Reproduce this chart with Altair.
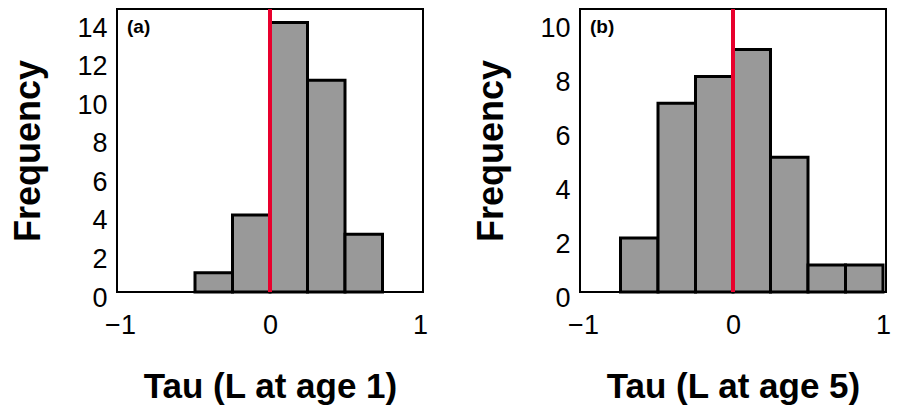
import altair as alt
import pandas as pd

# ---- data ----
bin_width = 0.25
bin_start_a = [-0.5, -0.25, 0.0, 0.25, 0.5]
count_a = [1, 4, 14, 11, 3]
bin_start_b = [-0.75, -0.5, -0.25, 0.0, 0.25, 0.5, 0.75]
count_b = [2, 7, 8, 9, 5, 1, 1]
x_ticks = [-1, 0, 1]
y_ticks_a = [0, 2, 4, 6, 8, 10, 12, 14]
y_ticks_b = [0, 2, 4, 6, 8, 10]
ref_line = [0]
titles_x = ["Tau (L at age 1)", "Tau (L at age 5)"]
tags = ["(a)", "(b)"]

W, H = 306, 283
FONT = "Liberation Sans"
LABEL_EXPR = "datum.value == 0 ? '0' : format(datum.value, 'd')"


def panel(starts, counts, yticks, ymax, xtitle, tag):
    df = pd.DataFrame({
        "start": starts,
        "end": [s + bin_width for s in starts],
        "count": counts,
    })
    xscale = alt.Scale(domain=[-1.02, 1.02], nice=False, zero=False)
    xaxis = alt.Axis(values=x_ticks, labelExpr=LABEL_EXPR, title=xtitle, labelFlush=False,
                     labelOverlap=False, ticks=False,
                     tickSize=0, domain=False, grid=False, labelPadding=20,
                     labelFontSize=27, labelFont=FONT, labelColor="black",
                     titleFont=FONT, titleFontSize=35, titleFontWeight="bold",
                     titleColor="black", titleBaseline="middle", titleY=94)
    yaxis = alt.Axis(values=yticks, labelExpr=LABEL_EXPR, title="Frequency", ticks=False,
                     tickSize=0, labelOverlap=False,
                     domain=False, grid=False, labelPadding=10, labelOffset=6,
                     labelFontSize=27, labelFont=FONT, labelColor="black",
                     titleFont=FONT, titleFontSize=36, titleFontWeight="bold",
                     titleColor="black", titleBaseline="middle", titleX=-89)
    bars = alt.Chart(df).mark_bar(fill="#999999", stroke="black", strokeWidth=3).encode(
        x=alt.X("start:Q", scale=xscale, axis=xaxis),
        x2="end:Q",
        y=alt.Y("count:Q", scale=alt.Scale(domain=[0, ymax], nice=False), axis=yaxis),
        y2=alt.datum(0),
    )
    rule = alt.Chart(pd.DataFrame({"start": ref_line})).mark_rule(
        color="#E8002D", strokeWidth=4).encode(
        x=alt.X("start:Q"), y=alt.value(0), y2=alt.value(H))
    label = alt.Chart(pd.DataFrame({"t": [tag]})).mark_text(
        align="left", baseline="middle", font=FONT, fontSize=19,
        fontWeight="bold", color="black").encode(
        text="t:N", x=alt.value(10), y=alt.value(18))
    return alt.layer(bars, rule, label).properties(width=W, height=H)


pa = panel(bin_start_a, count_a, y_ticks_a, 14.7, titles_x[0], tags[0])
pb = panel(bin_start_b, count_b, y_ticks_b, 10.5, titles_x[1], tags[1])

chart = alt.hconcat(pa, pb, spacing=42).properties(
    padding={"left": 0, "top": -2, "right": 0, "bottom": 0}
).configure(background="white").configure_view(stroke="black", strokeWidth=2)

chart.save("out.html", embed_options={"renderer": "svg", "actions": False})
